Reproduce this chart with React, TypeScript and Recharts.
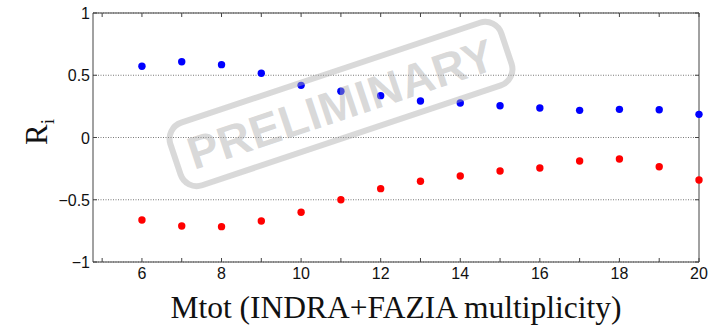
import { ScatterChart, Scatter, XAxis, YAxis, CartesianGrid } from 'recharts'

const mtot = [6, 7, 8, 9, 10, 11, 12, 13, 14, 15, 16, 17, 18, 19, 20]
const blueR = [0.572, 0.609, 0.585, 0.516, 0.419, 0.371, 0.336, 0.293, 0.277, 0.255, 0.237, 0.218, 0.226, 0.223, 0.186]
const redR = [-0.663, -0.711, -0.716, -0.671, -0.601, -0.5, -0.411, -0.352, -0.309, -0.269, -0.245, -0.189, -0.173, -0.235, -0.341]
const xTicks = [5, 6, 7, 8, 9, 10, 11, 12, 13, 14, 15, 16, 17, 18, 19, 20]
const yTicks = [-1, -0.5, 0, 0.5, 1]
const xDomain = [4.77, 20]
const yDomain = [-1, 1]

const blueData = mtot.map((x, i) => ({ x, y: blueR[i] }))
const redData = mtot.map((x, i) => ({ x, y: redR[i] }))
// frame: top border (with its ticks) and right border (with its ticks), placed by the chart's scales
const topFrame = [{ x: xDomain[0], y: yDomain[1], tick: false }, ...xTicks.map((x) => ({ x, y: yDomain[1], tick: true }))]
const rightFrame = yTicks.map((y) => ({ x: xDomain[1], y, tick: true }))

const W = 715
const H = 326
const AXIS = '#444'
const TICK_FONT = '"Liberation Sans", Arial, sans-serif'
const SERIF = '"Liberation Serif", "Times New Roman", serif'
const WM = 'rgba(170,170,170,0.45)'

const fmtY = (v: number) => (v < 0 ? '\u2212' + String(-v) : String(v))

function BottomTick(props: any) {
  const { x, y, payload } = props
  const v = payload.value
  return (
    <g>
      <line x1={x} y1={y} x2={x} y2={y - 4} stroke={AXIS} />
      {v % 2 === 0 && (
        <text x={x} y={y + 17} textAnchor="middle" fontSize={16} fontFamily={TICK_FONT} fill="#111">{v}</text>
      )}
    </g>
  )
}

function LeftTick(props: any) {
  const { x, y, payload } = props
  return (
    <g>
      <line x1={x} y1={y} x2={x + 4} y2={y} stroke={AXIS} />
      <text x={x - 3} y={y + 6} textAnchor="end" fontSize={16} fontFamily={TICK_FONT} fill="#111">{fmtY(payload.value)}</text>
    </g>
  )
}

const topTick = (p: any) =>
  p.payload && p.payload.tick ? <line x1={p.cx} y1={p.cy} x2={p.cx} y2={p.cy + 4} stroke={AXIS} /> : <g />
const rightTick = (p: any) => <line x1={p.cx} y1={p.cy} x2={p.cx - 4} y2={p.cy} stroke={AXIS} />

const dot = (color: string) => (p: any) => <circle cx={p.cx} cy={p.cy} r={3.7} fill={color} />

export default function App() {
  return (
    <div style={{ position: 'absolute', left: 0, top: 0, width: W, height: H, background: '#fff' }}>
      <ScatterChart width={W} height={H} margin={{ top: 13, right: 16, bottom: 0, left: 33 }}>
        <CartesianGrid vertical={false} stroke="#555" strokeWidth={0.8} strokeDasharray="1 1.5" />
        <XAxis type="number" dataKey="x" domain={xDomain} ticks={xTicks}
          height={64} stroke={AXIS} tickLine={false} tickSize={0} tickMargin={0} tick={<BottomTick />}
          label={{ content: () => <text x={396} y={318} textAnchor="middle" fontSize={31.5} fontFamily={SERIF} fill="#111">Mtot (INDRA+FAZIA multiplicity)</text> }} />
        <YAxis type="number" dataKey="y" domain={yDomain} ticks={yTicks} width={60}
          stroke={AXIS} tickLine={false} tickSize={0} tickMargin={0} tick={<LeftTick />}
          label={{ content: () => (
            <text transform="rotate(-90, 47, 132)" x={47} y={132} textAnchor="middle" fontSize={31} fontFamily={SERIF} fill="#111">
              R<tspan fontSize={19} dy={7}>i</tspan>
            </text>
          ) }} />
        <Scatter data={topFrame} line={{ stroke: AXIS, strokeWidth: 1 }} shape={topTick} isAnimationActive={false} />
        <Scatter data={rightFrame} line={{ stroke: AXIS, strokeWidth: 1 }} shape={rightTick} isAnimationActive={false} />
        <Scatter data={blueData} fill="#0000ff" shape={dot('#0000ff')} isAnimationActive={false} />
        <Scatter data={redData} fill="#ff0000" shape={dot('#ff0000')} isAnimationActive={false} />
      </ScatterChart>
      <div style={{
        position: 'absolute', left: 341, top: 104, width: 355, height: 72, boxSizing: 'border-box',
        transform: 'translate(-50%, -50%) rotate(-18.5deg)', border: `6px solid ${WM}`, borderRadius: 20,
        display: 'flex', alignItems: 'center', justifyContent: 'center', pointerEvents: 'none',
        color: WM, fontFamily: TICK_FONT, fontWeight: 700, fontSize: 46, letterSpacing: 0.5, lineHeight: 1,
      }}>PRELIMINARY</div>
    </div>
  )
}
